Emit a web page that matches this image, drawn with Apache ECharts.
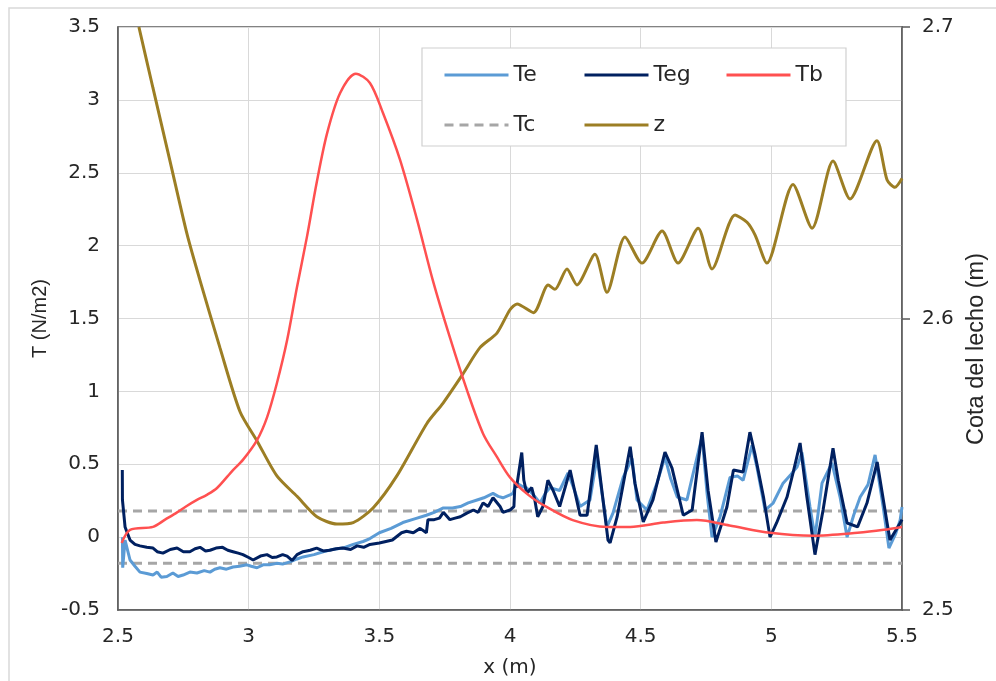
<!DOCTYPE html>
<html>
<head>
<meta charset="utf-8">
<script src="https://cdn.jsdelivr.net/npm/echarts@6/dist/echarts.min.js"></script>
<style>
  html, body { margin: 0; padding: 0; background: #ffffff; }
  #chart { width: 996px; height: 681px; }
</style>
</head>
<body>
<div id="chart"></div>
<script>
// Axis ticks
const xTicks = [2.5, 3, 3.5, 4, 4.5, 5, 5.5];
const tTicks = [-0.5, 0, 0.5, 1, 1.5, 2, 2.5, 3, 3.5];
const zTicks = [2.5, 2.6, 2.7];

// Critical shear stress (dashed band)
const tcValue = 0.18;

// Te: effective shear stress [x (m), T (N/m2)]
const te = [
  [2.517, 0.0], [2.518, -0.21], [2.527, -0.02], [2.546, -0.157], [2.565, -0.2], [2.584, -0.24],
  [2.61, -0.25], [2.634, -0.26], [2.65, -0.24], [2.665, -0.275], [2.687, -0.27], [2.71, -0.246],
  [2.73, -0.27], [2.749, -0.26], [2.775, -0.24], [2.802, -0.246], [2.83, -0.23], [2.852, -0.24],
  [2.87, -0.22], [2.89, -0.21], [2.915, -0.22], [2.94, -0.205], [2.965, -0.2], [2.993, -0.19],
  [3.01, -0.2], [3.032, -0.21], [3.055, -0.19], [3.08, -0.19], [3.108, -0.18], [3.13, -0.185],
  [3.158, -0.17], [3.185, -0.15], [3.208, -0.136], [3.25, -0.12], [3.285, -0.1], [3.32, -0.085],
  [3.36, -0.075], [3.4, -0.05], [3.438, -0.03], [3.464, -0.01], [3.5, 0.03], [3.545, 0.06],
  [3.59, 0.1], [3.635, 0.125], [3.68, 0.15], [3.71, 0.17], [3.745, 0.2], [3.78, 0.2],
  [3.81, 0.21], [3.84, 0.235], [3.874, 0.255], [3.9, 0.27], [3.935, 0.3], [3.955, 0.28],
  [3.973, 0.27], [4.0, 0.29], [4.011, 0.3], [4.026, 0.37], [4.045, 0.35], [4.064, 0.337],
  [4.09, 0.29], [4.115, 0.234], [4.135, 0.3], [4.153, 0.34], [4.19, 0.32], [4.222, 0.44],
  [4.245, 0.33], [4.268, 0.21], [4.306, 0.255], [4.333, 0.55], [4.352, 0.3], [4.371, 0.07],
  [4.394, 0.165], [4.433, 0.41], [4.467, 0.54], [4.486, 0.255], [4.524, 0.186], [4.562, 0.37],
  [4.593, 0.55], [4.615, 0.4], [4.64, 0.275], [4.677, 0.255], [4.7, 0.43], [4.735, 0.69],
  [4.754, 0.3], [4.773, 0.0], [4.804, 0.14], [4.842, 0.41], [4.87, 0.42], [4.892, 0.39],
  [4.926, 0.63], [4.945, 0.48], [4.976, 0.186], [5.007, 0.234], [5.045, 0.37], [5.075, 0.43],
  [5.098, 0.48], [5.117, 0.58], [5.148, 0.207], [5.167, 0.0], [5.194, 0.37], [5.232, 0.51],
  [5.263, 0.275], [5.29, 0.0], [5.315, 0.15], [5.34, 0.275], [5.37, 0.36], [5.397, 0.564],
  [5.428, 0.207], [5.45, -0.075], [5.475, 0.02], [5.493, 0.117], [5.5, 0.207]
];

// Teg: effective shear stress (granular) [x (m), T (N/m2)]
const teg = [
  [2.5165, 0.46], [2.517, 0.255], [2.527, 0.07], [2.546, -0.02], [2.565, -0.05], [2.584, -0.06],
  [2.61, -0.07], [2.634, -0.075], [2.65, -0.1], [2.672, -0.11], [2.7, -0.085], [2.726, -0.075],
  [2.75, -0.1], [2.775, -0.1], [2.795, -0.08], [2.814, -0.07], [2.835, -0.095], [2.852, -0.09],
  [2.875, -0.075], [2.9, -0.07], [2.92, -0.09], [2.94, -0.1], [2.96, -0.11], [2.978, -0.12],
  [3.0, -0.14], [3.017, -0.157], [3.045, -0.13], [3.07, -0.12], [3.09, -0.14], [3.108, -0.136],
  [3.13, -0.12], [3.147, -0.13], [3.166, -0.16], [3.185, -0.12], [3.208, -0.1], [3.235, -0.09],
  [3.26, -0.075], [3.285, -0.095], [3.31, -0.09], [3.335, -0.08], [3.36, -0.075], [3.39, -0.085],
  [3.415, -0.06], [3.44, -0.07], [3.464, -0.05], [3.5, -0.04], [3.525, -0.03], [3.55, -0.02],
  [3.585, 0.03], [3.604, 0.04], [3.63, 0.03], [3.656, 0.06], [3.68, 0.03], [3.686, 0.12],
  [3.71, 0.12], [3.73, 0.13], [3.745, 0.17], [3.77, 0.12], [3.79, 0.13], [3.81, 0.14],
  [3.835, 0.165], [3.86, 0.186], [3.878, 0.17], [3.897, 0.235], [3.916, 0.21], [3.935, 0.27],
  [3.962, 0.21], [3.973, 0.17], [4.0, 0.186], [4.015, 0.21], [4.019, 0.37], [4.025, 0.34],
  [4.045, 0.58], [4.053, 0.39], [4.064, 0.3], [4.083, 0.34], [4.095, 0.255], [4.106, 0.14],
  [4.126, 0.21], [4.145, 0.39], [4.165, 0.32], [4.19, 0.21], [4.23, 0.46], [4.268, 0.15],
  [4.295, 0.15], [4.33, 0.632], [4.375, -0.02], [4.383, -0.04], [4.41, 0.14], [4.46, 0.62],
  [4.478, 0.37], [4.51, 0.104], [4.547, 0.255], [4.593, 0.584], [4.62, 0.474], [4.663, 0.15],
  [4.697, 0.186], [4.735, 0.72], [4.758, 0.32], [4.788, -0.034], [4.83, 0.207], [4.855, 0.46],
  [4.892, 0.447], [4.918, 0.72], [4.938, 0.564], [4.97, 0.275], [4.995, 0.0], [5.02, 0.097],
  [5.06, 0.275], [5.083, 0.44], [5.11, 0.646], [5.136, 0.275], [5.167, -0.12], [5.198, 0.186],
  [5.236, 0.61], [5.256, 0.39], [5.29, 0.097], [5.33, 0.07], [5.366, 0.234], [5.405, 0.515],
  [5.443, 0.097], [5.454, -0.02], [5.493, 0.097], [5.5, 0.12]
];

// Tb: bed shear stress [x (m), T (N/m2)]
const tb = [
  [2.514, -0.04], [2.546, 0.05], [2.634, 0.07], [2.68, 0.12], [2.726, 0.17], [2.76, 0.21],
  [2.802, 0.255], [2.84, 0.29], [2.879, 0.337], [2.94, 0.46], [2.978, 0.53], [3.032, 0.666],
  [3.07, 0.82], [3.108, 1.056], [3.147, 1.35], [3.185, 1.716], [3.223, 2.06], [3.26, 2.43],
  [3.3, 2.77], [3.35, 3.047], [3.41, 3.18], [3.464, 3.116], [3.514, 2.91], [3.579, 2.59],
  [3.644, 2.18], [3.705, 1.76], [3.77, 1.37], [3.835, 1.01], [3.897, 0.71], [3.95, 0.55],
  [4.0, 0.41], [4.07, 0.29], [4.14, 0.207], [4.24, 0.117], [4.37, 0.07], [4.46, 0.07],
  [4.586, 0.1], [4.715, 0.117], [4.84, 0.08], [4.995, 0.03], [5.16, 0.01], [5.33, 0.03],
  [5.43, 0.05], [5.5, 0.07]
];

// z: bed elevation [x (m), z (m)]
const z = [
  [2.58, 2.7], [2.634, 2.679], [2.699, 2.654], [2.764, 2.629], [2.814, 2.613], [2.89, 2.59],
  [2.967, 2.568], [3.032, 2.558], [3.108, 2.546], [3.185, 2.539], [3.261, 2.532], [3.338, 2.5295],
  [3.4, 2.53], [3.476, 2.535], [3.567, 2.546], [3.682, 2.564], [3.744, 2.571], [3.82, 2.581],
  [3.885, 2.59], [3.95, 2.595], [4.0, 2.603], [4.027, 2.605], [4.09, 2.602], [4.146, 2.6115],
  [4.172, 2.61], [4.218, 2.617], [4.256, 2.6115], [4.325, 2.622], [4.371, 2.609], [4.44, 2.628],
  [4.505, 2.619], [4.582, 2.63], [4.643, 2.619], [4.72, 2.631], [4.773, 2.617], [4.861, 2.6355],
  [4.907, 2.633], [4.938, 2.6286], [4.983, 2.619], [5.083, 2.646], [5.156, 2.631], [5.236, 2.654],
  [5.301, 2.641], [5.404, 2.661], [5.443, 2.6475], [5.473, 2.645], [5.5, 2.648]
];

const FONT = '"DejaVu Sans", "Liberation Sans", Arial, sans-serif';
const NAME_FONT = '"Liberation Sans", Arial, sans-serif';
const TEXT = '#262626';
const AXIS = '#595959';
const GRID = '#d9d9d9';

const chart = echarts.init(document.getElementById('chart'), null, { renderer: 'canvas' });

// One legend per entry so every entry sits in its own column of the box
function legendAt(name, left, top) {
  return {
    left: left, top: top, data: [name], padding: 0,
    itemWidth: 64, itemHeight: 14, z: 10,
    itemStyle: { opacity: 0 },
    lineStyle: { width: 3 },
    textStyle: { fontFamily: FONT, fontSize: 22, color: TEXT }
  };
}

chart.setOption({
  animation: false,
  backgroundColor: '#ffffff',
  textStyle: { fontFamily: FONT },
  grid: { left: 118, right: 94, top: 27, bottom: 71, show: true, borderColor: AXIS, borderWidth: 1.5,
    containLabel: false, outerBoundsMode: 'none' },
  graphic: [
    { type: 'rect', z: -10, shape: { x: 9, y: 8, width: 1000, height: 700 }, style: { fill: 'none', stroke: '#d9d9d9', lineWidth: 1.5 } },
    { type: 'rect', z: 3, shape: { x: 422, y: 48, width: 424, height: 98 }, style: { fill: '#ffffff', stroke: '#d0d0d0', lineWidth: 1.2 } },
    // Right-hand axis title
    { type: 'text', x: 977, y: 349, rotation: Math.PI / 2, z: 10,
      style: { text: 'Cota del lecho (m)', fontFamily: NAME_FONT, fontSize: 23.5, fill: TEXT,
        textAlign: 'center', textVerticalAlign: 'middle' } }
  ],
  legend: [
    legendAt('Te', 443, 64),
    legendAt('Teg', 583, 64),
    legendAt('Tb', 725, 64),
    legendAt('Tc', 443, 114),
    legendAt('z', 583, 114)
  ],
  xAxis: {
    type: 'value', min: 2.5, max: 5.5, interval: 0.5,
    name: 'x (m)', nameLocation: 'middle', nameGap: 48,
    nameTextStyle: { fontFamily: FONT, fontSize: 20, color: TEXT },
    axisLine: { show: true, onZero: false, lineStyle: { color: AXIS, width: 1.5 } },
    axisTick: { show: false },
    axisLabel: { fontFamily: FONT, fontSize: 20, color: TEXT, margin: 17,
      customValues: xTicks, formatter: v => String(v) },
    splitLine: { show: true, lineStyle: { color: GRID, width: 1 } }
  },
  yAxis: [
    {
      type: 'value', min: -0.5, max: 3.5, interval: 0.5,
      name: 'T (N/m2)', nameLocation: 'middle', nameGap: 62,
      nameTextStyle: { fontFamily: NAME_FONT, fontSize: 20, color: TEXT },
      axisLine: { show: true, onZero: false, lineStyle: { color: AXIS, width: 1.5 } },
      axisTick: { show: false },
      axisLabel: { fontFamily: FONT, fontSize: 20, color: TEXT, margin: 18,
        customValues: tTicks, formatter: v => String(v) },
      splitLine: { show: true, lineStyle: { color: GRID, width: 1 } }
    },
    {
      type: 'value', min: 2.5, max: 2.7, interval: 0.1, position: 'right',
      axisLine: { show: true, onZero: false, lineStyle: { color: AXIS, width: 1.5 } },
      axisTick: { show: true, inside: false, length: 8, lineStyle: { color: AXIS, width: 1.5 } },
      axisLabel: { fontFamily: FONT, fontSize: 20, color: TEXT, margin: 20,
        customValues: zTicks, formatter: v => v.toFixed(1) },
      splitLine: { show: false }
    }
  ],
  series: [
    { name: 'Te', type: 'line', data: te, yAxisIndex: 0, symbol: 'none', z: 4,
      lineStyle: { color: '#5b9bd5', width: 3 }, itemStyle: { color: '#5b9bd5' } },
    { name: 'Teg', type: 'line', data: teg, yAxisIndex: 0, symbol: 'none', z: 5,
      lineStyle: { color: '#002060', width: 3 }, itemStyle: { color: '#002060' } },
    { name: 'Tb', type: 'line', data: tb, yAxisIndex: 0, symbol: 'none', smooth: 0.3, z: 6,
      lineStyle: { color: '#ff5050', width: 2.5 }, itemStyle: { color: '#ff5050' } },
    { name: 'Tc', type: 'line', data: [[2.5, tcValue], [5.5, tcValue]], yAxisIndex: 0, symbol: 'none', z: 3,
      lineStyle: { color: '#a6a6a6', width: 3, type: [9, 6] }, itemStyle: { color: '#a6a6a6' } },
    { name: 'Tc', type: 'line', data: [[2.5, -tcValue], [5.5, -tcValue]], yAxisIndex: 0, symbol: 'none', z: 3,
      lineStyle: { color: '#a6a6a6', width: 3, type: [9, 6] }, itemStyle: { color: '#a6a6a6' } },
    { name: 'z', type: 'line', data: z, yAxisIndex: 1, symbol: 'none', smooth: 0.25, z: 4,
      lineStyle: { color: '#9c7e24', width: 3 }, itemStyle: { color: '#9c7e24' } }
  ]
});
</script>
</body>
</html>
